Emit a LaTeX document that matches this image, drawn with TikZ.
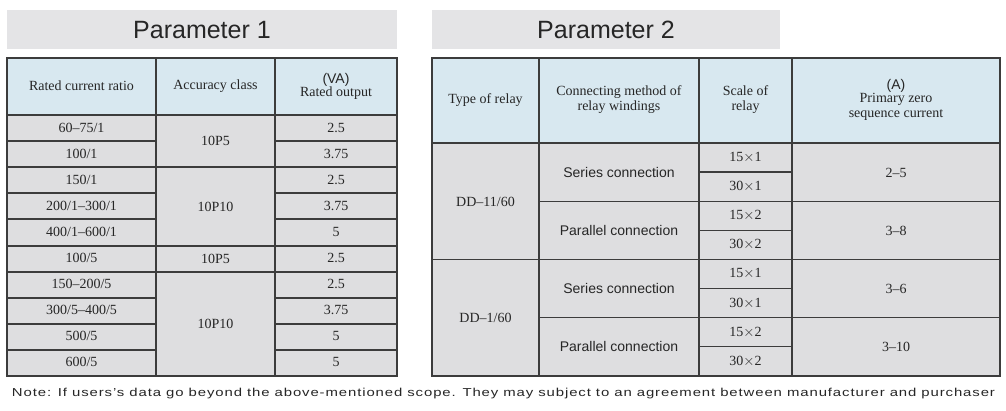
\documentclass[tikz,border=0pt]{standalone}
\usepackage{fontspec}
\usepackage{graphicx}
\setmainfont{Liberation Serif}
\setsansfont{Liberation Sans}
\definecolor{hdr}{RGB}{216,232,240}
\definecolor{cell}{RGB}{222,222,224}
\definecolor{bar}{RGB}{228,228,230}
\definecolor{ln}{RGB}{60,60,60}
\begin{document}
\begin{tikzpicture}[x=1pt,y=-1pt,
  tx/.style={font=\fontsize{14}{15}\selectfont,align=center,text=black!85},
  sx/.style={font=\sffamily\fontsize{14}{15}\selectfont,align=center,text=black!85},
  tt/.style={font=\sffamily\fontsize{25}{28}\selectfont,text=black!85}]
\useasboundingbox (0,0) rectangle (1006,411);
\fill[white] (0,0) rectangle (1006,411);
% titles
\fill[bar] (7,10) rectangle (397,49);
\node[tt] (t1) at (202,30) {Parameter 1};
\fill[bar] (432,10) rectangle (780,49);
\node[tt] (t2) at (606,30) {Parameter 2};
% table 1
\fill[hdr] (7,58) rectangle (397,115);
\fill[cell] (7,115) rectangle (397,376);
\begin{scope}[draw=ln,line width=1.3pt]
\draw (7,58) rectangle (397,376);
\draw (156,58) -- (156,376) (275,58) -- (275,376);
\draw (7,115) -- (397,115);
\foreach \y in {141,167,193,219,272,298,324,350} {\draw (7,\y) -- (156,\y) (275,\y) -- (397,\y);}
\draw (7,246) -- (397,246) (7,272) -- (397,272) (7,167) -- (397,167);
\end{scope}
\node[tx] (h11) at (81.5,86) {Rated current ratio};
\node[tx] (h12) at (215.5,86) {Accuracy class};
\node[tx] (h13) at (336,86) {{\sffamily(VA)}\\[-2pt]Rated output};
\foreach \t/\v [count=\i] in {{60--75/1}/2.5, {100/1}/3.75, {150/1}/2.5, {200/1--300/1}/3.75, {400/1--600/1}/5, {100/5}/2.5, {150--200/5}/2.5, {300/5--400/5}/3.75, {500/5}/5, {600/5}/5}{
  \node[tx] (a\i) at (81.5,{115+26*\i-13}) {\t};
  \node[tx] (c\i) at (336,{115+26*\i-13}) {\v};
}
\node[tx] (b1) at (215.5,141) {10P5};
\node[tx] (b2) at (215.5,206.5) {10P10};
\node[tx] (b3) at (215.5,259) {10P5};
\node[tx] (b4) at (215.5,324) {10P10};
% table 2
\fill[hdr] (432,58) rectangle (1000,143);
\fill[cell] (432,143) rectangle (1000,376);
\begin{scope}[draw=ln,line width=1.3pt]
\draw (432,58) rectangle (1000,376);
\draw (539,58) -- (539,376) (699,58) -- (699,376) (792,58) -- (792,376);
\draw (432,143) -- (1000,143) (432,259.5) -- (1000,259.5);
\draw (539,201.75) -- (1000,201.75) (539,317.25) -- (1000,317.25);
\foreach \y in {172.1,230.6,288.4,346.6} {\draw (699,\y) -- (792,\y);}
\end{scope}
\node[tx] (h21) at (485.5,100) {Type of relay};
\node[tx] (h22) at (619,100) {Connecting method of\\relay windings};
\node[tx] (h23) at (745.5,100) {Scale of\\relay};
\node[tx] (h24) at (896,100) {{\sffamily(A)}\\[-2pt]Primary zero\\sequence current};
\node[tx] (r1) at (485.5,201.5) {DD--11/60};
\node[tx] (r2) at (485.5,317.5) {DD--1/60};
\node[sx] (s1) at (619,172.5) {Series connection};
\node[sx] (s2) at (619,230.5) {Parallel connection};
\node[sx] (s3) at (619,288.5) {Series connection};
\node[sx] (s4) at (619,346.5) {Parallel connection};
\foreach \v [count=\i] in {15$\times$1,30$\times$1,15$\times$2,30$\times$2,15$\times$1,30$\times$1,15$\times$2,30$\times$2}{
  \node[tx] (k\i) at (745.5,{143+29.1*\i-14.55}) {\v};}
\node[tx] (p1) at (896,172.5) {2--5};
\node[tx] (p2) at (896,230.5) {3--8};
\node[tx] (p3) at (896,288.5) {3--6};
\node[tx] (p4) at (896,346.5) {3--10};
% note
\node[text=black!85,inner sep=0] (note) at (503.5,394) {\resizebox{983pt}{\height}{\sffamily\fontsize{11.5}{13}\selectfont\addfontfeature{LetterSpace=6}Note: If users's data go beyond the above-mentioned scope. They may subject to an agreement between manufacturer and purchaser}};
\end{tikzpicture}
\end{document}
